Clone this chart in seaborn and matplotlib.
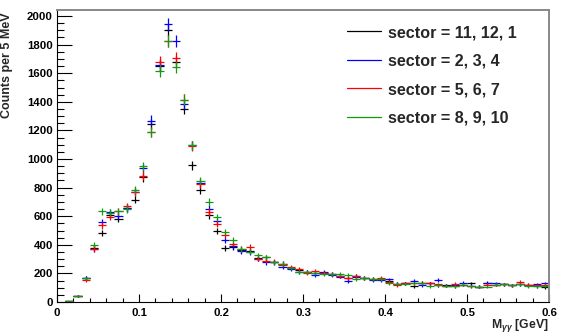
import numpy as np
import pandas as pd
import matplotlib
matplotlib.use("Agg")
import matplotlib.pyplot as plt
from matplotlib.lines import Line2D
from matplotlib.ticker import MultipleLocator
import seaborn as sns

# ---- data (bin centres, 10 MeV wide bins) ----
bin_centers = np.round(np.arange(0.015, 0.6, 0.01), 3)

sector_11_12_1 = [5, 44, 170, 380, 483, 610, 581, 655, 716, 871,
                  1244, 1650, 1902, 1677, 1351, 955, 781, 607, 495, 379,
                  386, 365, 360, 305, 313, 280, 267, 239, 225, 209,
                  205, 200, 193, 181, 165, 181, 167, 160, 160, 150,
                  128, 130, 111, 135, 130, 116, 116, 111, 120, 130,
                  106, 135, 120, 123, 116, 125, 116, 111, 102]
sector_2_3_4 = [5, 44, 170, 372, 560, 627, 604, 658, 767, 937,
                1269, 1656, 1942, 1823, 1384, 1095, 830, 651, 567, 435,
                390, 355, 350, 302, 278, 278, 246, 230, 211, 209,
                188, 209, 190, 178, 146, 175, 165, 151, 151, 158,
                128, 130, 146, 116, 130, 153, 115, 120, 135, 115,
                106, 130, 130, 123, 116, 125, 120, 123, 130]
sector_5_6_7 = [5, 40, 153, 372, 537, 595, 634, 669, 767, 883,
                1190, 1679, 1823, 1707, 1414, 1090, 826, 630, 546, 467,
                409, 372, 383, 302, 290, 282, 262, 245, 232, 205,
                216, 200, 193, 181, 167, 181, 170, 160, 170, 140,
                116, 130, 130, 135, 130, 125, 115, 128, 120, 111,
                106, 120, 120, 123, 116, 139, 120, 118, 120]
sector_8_9_10 = [5, 42, 165, 402, 634, 623, 634, 651, 781, 948,
                 1190, 1616, 1823, 1640, 1414, 1095, 844, 700, 593, 490,
                 435, 372, 351, 327, 313, 278, 267, 239, 211, 209,
                 200, 195, 193, 197, 190, 162, 167, 160, 160, 130,
                 128, 128, 130, 130, 111, 116, 115, 111, 120, 111,
                 106, 106, 120, 123, 116, 125, 111, 111, 115]

labels = ["sector = 11, 12, 1", "sector = 2, 3, 4",
          "sector = 5, 6, 7", "sector = 8, 9, 10"]
colors = ["#000000", "#0000ff", "#ff0000", "#119911"]
series = [sector_11_12_1, sector_2_3_4, sector_5_6_7, sector_8_9_10]

df = pd.concat([
    pd.DataFrame({"mass": bin_centers, "counts": vals, "sector": lab})
    for lab, vals in zip(labels, series)
], ignore_index=True)

# ---- style ----
sns.set_style("ticks")
plt.rcParams["font.family"] = ["Liberation Sans", "DejaVu Sans"]
plt.rcParams["font.weight"] = "bold"
plt.rcParams["mathtext.fontset"] = "custom"
plt.rcParams["mathtext.rm"] = "Liberation Sans:bold"
plt.rcParams["mathtext.it"] = "Liberation Sans:italic:bold"
plt.rcParams["mathtext.bf"] = "Liberation Sans:bold"

W, H = 567, 336
fig = plt.figure(figsize=(W / 100, H / 100), dpi=100)
fig.patch.set_facecolor("white")
x0, x1, y0, y1 = 57, 549, 10, 302
ax = fig.add_axes([x0 / W, 1 - y1 / H, (x1 - x0) / W, (y1 - y0) / H])
ax.set_facecolor("white")

palette = dict(zip(labels, colors))
for lab in labels:
    sub = df[df["sector"] == lab]
    ax.errorbar(sub["mass"], sub["counts"], xerr=0.005,
                yerr=np.sqrt(sub["counts"]), fmt="none",
                ecolor=palette[lab], elinewidth=0.9, capsize=0)

ax.set_xlim(0, 0.6)
ax.set_ylim(0, 2042)

ax.xaxis.set_major_locator(MultipleLocator(0.1))
ax.xaxis.set_minor_locator(MultipleLocator(0.02))
ax.yaxis.set_major_locator(MultipleLocator(200))
ax.yaxis.set_minor_locator(MultipleLocator(50))
ax.xaxis.set_major_formatter(matplotlib.ticker.FuncFormatter(
    lambda v, p: "0" if abs(v) < 1e-9 else f"{v:.1f}"))

ax.tick_params(axis="y", which="major", direction="in", length=10.5,
               width=0.8, labelsize=8.2, pad=3, colors="black")
ax.tick_params(axis="y", which="minor", direction="in", length=5,
               width=0.8, colors="black")
ax.tick_params(axis="x", which="major", direction="in", length=6,
               width=0.8, labelsize=8.2, pad=4, colors="black")
ax.tick_params(axis="x", which="minor", direction="in", length=3.2,
               width=0.8, colors="black")
for t in ax.get_xticklabels() + ax.get_yticklabels():
    t.set_fontweight("bold")

for side in ["left", "bottom"]:
    ax.spines[side].set_color("black")
    ax.spines[side].set_linewidth(0.8)
for side in ["top", "right"]:
    ax.spines[side].set_color("#888888")
    ax.spines[side].set_linewidth(1.4)

fig.text(7 / W, 1 - 12 / H, "Counts per 5 MeV", rotation=90,
         ha="center", va="top", fontsize=9, fontweight="bold")
fig.text(549 / W, 1 - 328 / H, r"M$_{\gamma\gamma}$ [GeV]",
         ha="right", va="baseline", fontsize=8.8, fontweight="bold")

handles = [Line2D([0], [0], color=c, lw=0.9) for c in colors]
leg = fig.legend(handles, labels, loc="upper left",
                 bbox_to_anchor=(347 / W, 1 - 25 / H), frameon=False,
                 fontsize=11.6, handlelength=2.1, handletextpad=0.42,
                 labelspacing=0.84, borderpad=0, borderaxespad=0)
for t in leg.get_texts():
    t.set_fontweight("bold")

fig.savefig("out.png", dpi=100, facecolor="white")
